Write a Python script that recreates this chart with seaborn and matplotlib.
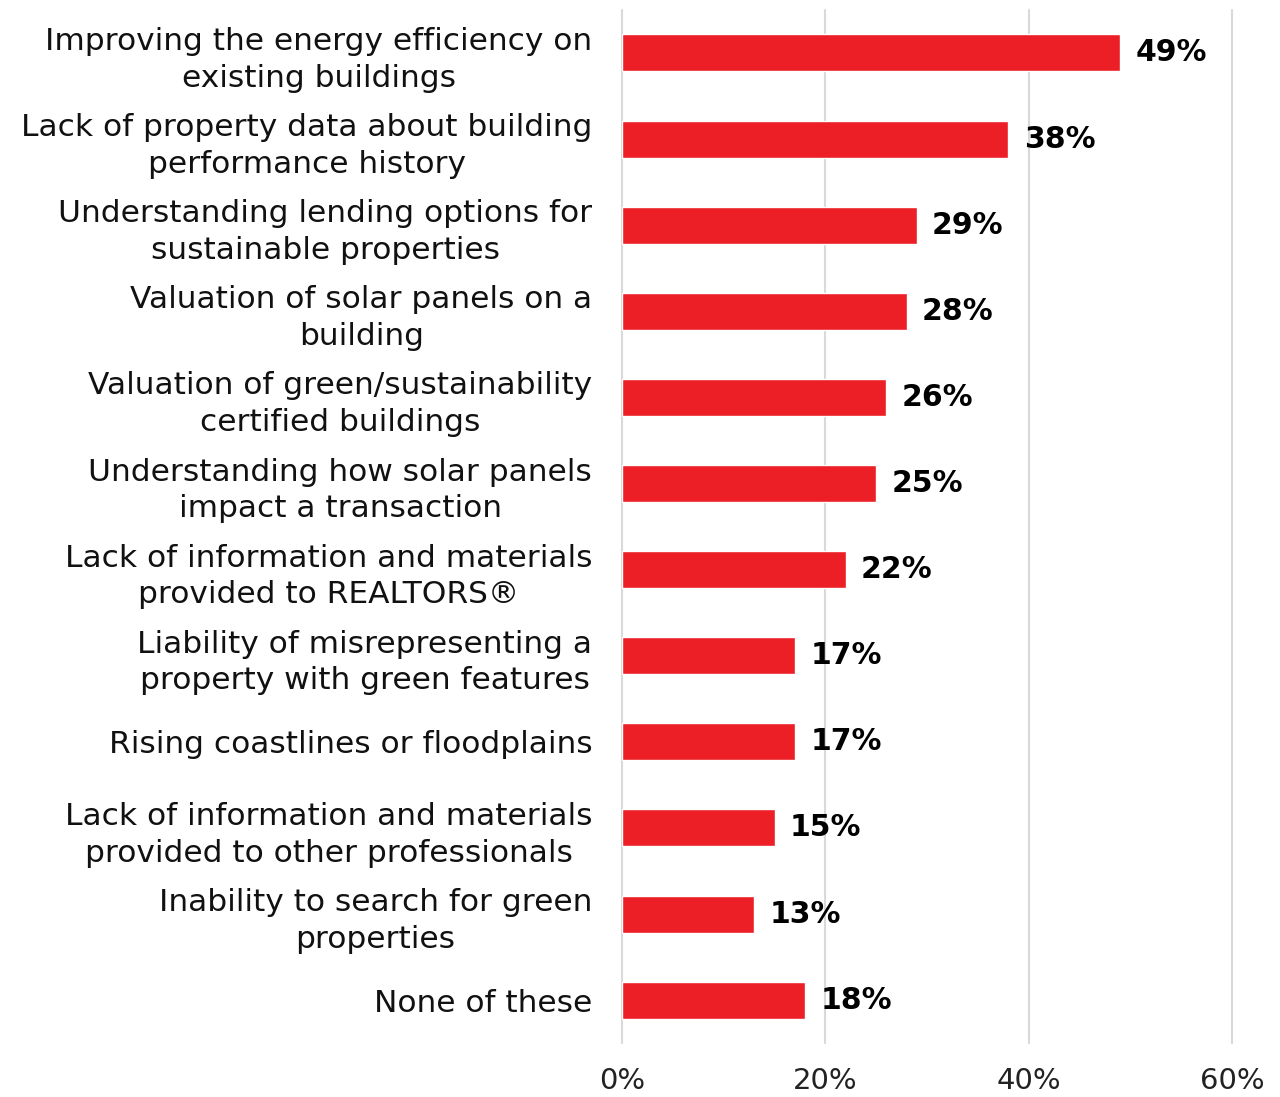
import matplotlib
matplotlib.use("Agg")
import matplotlib.pyplot as plt
import seaborn as sns
import pandas as pd

categories = [
    "Improving the energy efficiency on\nexisting buildings",
    "Lack of property data about building\nperformance history",
    "Understanding lending options for\nsustainable properties",
    "Valuation of solar panels on a\nbuilding",
    "Valuation of green/sustainability\ncertified buildings",
    "Understanding how solar panels\nimpact a transaction",
    "Lack of information and materials\nprovided to REALTORS®",
    "Liability of misrepresenting a\nproperty with green features",
    "Rising coastlines or floodplains",
    "Lack of information and materials\nprovided to other professionals",
    "Inability to search for green\nproperties",
    "None of these",
]
values = [49, 38, 29, 28, 26, 25, 22, 17, 17, 15, 13, 18]
tick_values = [0, 20, 40, 60]
tick_labels = ["0%", "20%", "40%", "60%"]

df = pd.DataFrame({"category": categories, "value": values})

sns.set_theme(style="white")
plt.rcParams["font.family"] = ["DejaVu Sans"]

fig = plt.figure(figsize=(12.8, 10.97), dpi=100)
ax = fig.add_axes([0.486, 0.049, 0.4765, 0.942])

sns.barplot(data=df, y="category", x="value", orient="h", color="#EC1E26",
            saturation=1, width=0.43, ax=ax, zorder=3)

ax.set_xlim(0, 60)
ax.set_ylim(11.5, -0.5)
ax.set_xticks(tick_values)
ax.set_xticklabels(tick_labels, fontsize=21, color="#222222")
ax.set_yticks(range(len(categories)))
ax.set_yticklabels(categories, fontsize=22.5, color="#111111",
                   multialignment="center", linespacing=1.33)
ax.tick_params(axis="y", length=0, pad=21.5)
ax.tick_params(axis="x", length=0, pad=17)
ax.set_xlabel("")
ax.set_ylabel("")
ax.grid(axis="x", color="#D9D9D9", linewidth=1.5, zorder=0)
ax.grid(axis="y", visible=False)
for gl in ax.get_xgridlines():
    gl.set_clip_on(False)
for s in ax.spines.values():
    s.set_visible(False)

for i, v in enumerate(values):
    ax.text(v + 1.5, i, f"{v}%", va="center", ha="left", fontsize=21.5,
            fontweight="bold", color="black")

fig.savefig("out.png", dpi=100)
